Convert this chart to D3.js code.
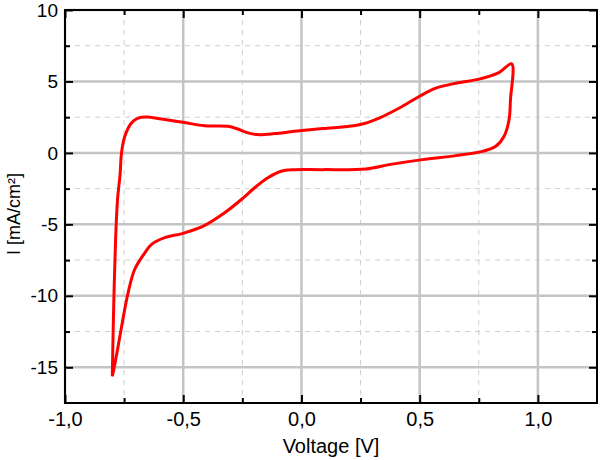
<!DOCTYPE html>
<html>
<head>
<meta charset="utf-8">
<script src="https://cdn.jsdelivr.net/npm/d3@7"></script>
<style>
  body { margin: 0; background: #fff; }
  text { font-family: "Liberation Sans", Arial, sans-serif; fill: #000; }
</style>
</head>
<body>
<div id="chart"></div>
<script>
// voltage sweep (V), anodic branch then cathodic branch
const voltage = [
  -0.800, -0.794, -0.786, -0.778, -0.767, -0.761, -0.747, -0.719, -0.691, -0.655, -0.592,
  -0.501, -0.409, -0.311, -0.269, -0.226, -0.185, -0.114, -0.030, 0.090, 0.245,
  0.329, 0.414, 0.498, 0.568, 0.653, 0.751, 0.835, 0.889,
  0.884, 0.878, 0.857, 0.822, 0.765, 0.653, 0.512, 0.371, 0.273, 0.090,
  -0.030, -0.086, -0.142, -0.198, -0.254, -0.325, -0.409, -0.501, -0.578, -0.634,
  -0.662, -0.705, -0.733, -0.755, -0.775, -0.796, -0.800
];
// current density (mA/cm²)
const current = [
  -15.63, -10.70, -6.05, -3.30, -1.50, 0.00, 1.16, 2.09, 2.44, 2.51, 2.37,
  2.14, 1.90, 1.86, 1.67, 1.40, 1.28, 1.35, 1.51, 1.70, 1.97,
  2.44, 3.14, 3.95, 4.53, 4.88, 5.16, 5.62, 6.23,
  3.72, 2.32, 1.16, 0.46, 0.11, -0.19, -0.47, -0.82, -1.12, -1.17,
  -1.17, -1.28, -1.74, -2.44, -3.26, -4.19, -5.07, -5.63, -5.93, -6.40,
  -6.98, -8.14, -9.77, -11.63, -13.50, -15.35, -15.63
];

const xMajor = [-1, -0.5, 0, 0.5, 1];
const xMinor = [-0.75, -0.25, 0.25, 0.75];
const yMajor = [10, 5, 0, -5, -10, -15];
const yMinor = [7.5, 2.5, -2.5, -7.5, -12.5];

const W = 600, H = 460;
const margin = { top: 10, right: 3, bottom: 57, left: 65 };
const width = W - margin.left - margin.right,
  height = H - margin.top - margin.bottom;

const x = d3.scaleLinear().domain([-1, 1.25]).range([0, width]);
const y = d3.scaleLinear().domain([-17.5, 10]).range([height, 0]);
const fmt = (d) => d3.format(".1f")(d).replace(".", ",").replace("−", "-");

const svg = d3.select("#chart").append("svg").attr("width", W).attr("height", H);
const g = svg.append("g").attr("transform", `translate(${margin.left},${margin.top})`);

// grid
g.selectAll(".xminor").data(xMinor).enter().append("line")
  .attr("x1", (d) => x(d)).attr("x2", (d) => x(d)).attr("y1", 0).attr("y2", height)
  .attr("stroke", "#cfcfcf").attr("stroke-width", 1).attr("stroke-dasharray", "5,5");
g.selectAll(".yminor").data(yMinor).enter().append("line")
  .attr("x1", 0).attr("x2", width).attr("y1", (d) => y(d)).attr("y2", (d) => y(d))
  .attr("stroke", "#cfcfcf").attr("stroke-width", 1).attr("stroke-dasharray", "5,5");
g.selectAll(".xmajor").data(xMajor).enter().append("line")
  .attr("x1", (d) => x(d)).attr("x2", (d) => x(d)).attr("y1", 0).attr("y2", height)
  .attr("stroke", "#c4c4c4").attr("stroke-width", 2.5);
g.selectAll(".ymajor").data(yMajor).enter().append("line")
  .attr("x1", 0).attr("x2", width).attr("y1", (d) => y(d)).attr("y2", (d) => y(d))
  .attr("stroke", "#c4c4c4").attr("stroke-width", 2.5);

// axes with inward ticks
const axisStyle = (sel) => {
  sel.select(".domain").remove();
  sel.selectAll("line").attr("stroke", "#000").attr("stroke-width", 2);
};
g.append("g").attr("transform", `translate(0,${height})`)
  .call(d3.axisBottom(x).tickValues(xMajor).tickSizeInner(-8).tickPadding(9).tickFormat(fmt))
  .call(axisStyle)
  .call((s) => s.selectAll("text").style("font-size", "20px"));
g.append("g").attr("transform", `translate(0,${height})`)
  .call(d3.axisBottom(x).tickValues(xMinor).tickSizeInner(-5).tickFormat(""))
  .call(axisStyle);
g.append("g")
  .call(d3.axisTop(x).tickValues(xMajor).tickSizeInner(-8).tickFormat(""))
  .call(axisStyle);
g.append("g")
  .call(d3.axisTop(x).tickValues(xMinor).tickSizeInner(-5).tickFormat(""))
  .call(axisStyle);
g.append("g")
  .call(d3.axisLeft(y).tickValues(yMajor).tickSizeInner(-8).tickPadding(7).tickFormat((d) => String(d)))
  .call(axisStyle)
  .call((s) => s.selectAll("text").style("font-size", "19px"));
g.append("g")
  .call(d3.axisLeft(y).tickValues(yMinor).tickSizeInner(-5).tickFormat(""))
  .call(axisStyle);
g.append("g").attr("transform", `translate(${width},0)`)
  .call(d3.axisRight(y).tickValues(yMajor).tickSizeInner(-8).tickFormat(""))
  .call(axisStyle);
g.append("g").attr("transform", `translate(${width},0)`)
  .call(d3.axisRight(y).tickValues(yMinor).tickSizeInner(-5).tickFormat(""))
  .call(axisStyle);

// CV curve
const pts = voltage.map((v, i) => [v, current[i]]);
g.append("path")
  .datum(pts)
  .attr("fill", "none")
  .attr("stroke", "#ff0000")
  .attr("stroke-width", 3)
  .attr("stroke-linejoin", "round")
  .attr("d", d3.line().x((d) => x(d[0])).y((d) => y(d[1])).curve(d3.curveCatmullRom.alpha(0.5)));

// frame
g.append("rect").attr("width", width).attr("height", height)
  .attr("fill", "none").attr("stroke", "#000").attr("stroke-width", 2);

// axis titles
svg.append("text")
  .attr("x", margin.left + width / 2).attr("y", 453)
  .attr("text-anchor", "middle").style("font-size", "20px")
  .text("Voltage [V]");
svg.append("text")
  .attr("transform", "translate(20,214) rotate(-90)")
  .attr("text-anchor", "middle").style("font-size", "18px")
  .text("I [mA/cm²]");
</script>
</body>
</html>
